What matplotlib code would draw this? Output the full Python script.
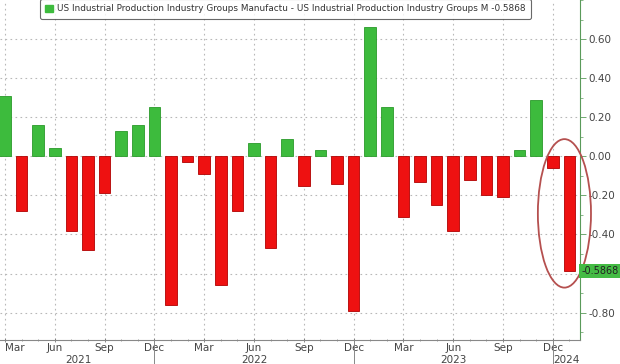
import numpy as np
import matplotlib
matplotlib.use('Agg')
import matplotlib.pyplot as plt
from matplotlib.patches import Ellipse, Patch
from matplotlib.ticker import MultipleLocator, FixedLocator

# monthly values, Mar 2021 .. Jan 2024
months = ['Mar', 'Apr', 'May', 'Jun', 'Jul', 'Aug', 'Sep', 'Oct', 'Nov', 'Dec',
          'Jan', 'Feb', 'Mar', 'Apr', 'May', 'Jun', 'Jul', 'Aug', 'Sep', 'Oct', 'Nov', 'Dec',
          'Jan', 'Feb', 'Mar', 'Apr', 'May', 'Jun', 'Jul', 'Aug', 'Sep', 'Oct', 'Nov', 'Dec',
          'Jan']
values = [0.31, -0.28, 0.16, 0.04, -0.38, -0.48, -0.19, 0.13, 0.16, 0.25,
          -0.76, -0.03, -0.09, -0.66, -0.28, 0.07, -0.47, 0.09, -0.15, 0.03, -0.14, -0.79,
          0.66, 0.25, -0.31, -0.13, -0.25, -0.38, -0.12, -0.20, -0.21, 0.03, 0.29, -0.06,
          -0.5868]
tick_months = ['Mar', 'Jun', 'Sep', 'Dec']
years = ['2021', '2022', '2023', '2024']
year_pos = [4.4, 15.0, 27.0, 33.85]
legend_text = 'US Industrial Production Industry Groups Manufactu - US Industrial Production Industry Groups M -0.5868'
last_label = '-0.5868'

green = '#3dbb3d'
red = '#ee1111'
grid_c = '#b8b8b8'
txt_c = '#444444'

x = np.arange(len(values))
vals = np.array(values)

fig = plt.figure(figsize=(6.2, 3.64), dpi=100)
ax = fig.add_axes([0.0, 0.066, 0.935, 0.934])

cols = [green if v >= 0 else red for v in vals]
edges = ['#2a9a2a' if v >= 0 else '#b00000' for v in vals]
ax.bar(x, vals, width=0.7, color=cols, edgecolor=edges, linewidth=0.6, zorder=3)

ax.set_xlim(-0.3, 34.62)
ax.set_ylim(-0.94, 0.80)

# x ticks (quarterly) + monthly minor ticks
qpos = [i for i, m in enumerate(months) if m in tick_months]
ax.xaxis.set_major_locator(FixedLocator(qpos))
ax.set_xticklabels([months[i] for i in qpos], fontsize=7.5, color=txt_c)
ax.get_xticklabels()[0].set_horizontalalignment('left')
ax.xaxis.set_minor_locator(FixedLocator(x))
ax.tick_params(axis='x', which='major', length=3, width=0.6, color='#777777', pad=1, direction='inout')
ax.tick_params(axis='x', which='minor', length=2, width=0.5, color='#777777', direction='inout')

# y axis on right
ax.yaxis.tick_right()
yt = np.round(np.arange(-0.8, 0.61, 0.2), 2) + 0.0
ax.set_yticks(yt)
# -0.60 sits behind the last-value box in the original
ax.set_yticklabels(['' if abs(t + 0.6) < 1e-6 else '%.2f' % (t + 0.0) for t in yt], fontsize=7.5, color=txt_c)
ax.yaxis.set_minor_locator(MultipleLocator(0.1))
ax.tick_params(axis='y', which='major', length=4, width=0.6, color='#5a9a5a', pad=2)
ax.tick_params(axis='y', which='minor', length=2, width=0.5, color='#5a9a5a')

ax.grid(True, which='major', linestyle=(0, (1.5, 3)), color=grid_c, linewidth=0.8, zorder=0)

for s in ['top', 'left']:
    ax.spines[s].set_visible(False)
ax.spines['right'].set_color('#5a9a5a')
ax.spines['right'].set_linewidth(0.8)
ax.spines['bottom'].set_color('#888888')
ax.spines['bottom'].set_linewidth(0.8)

# year labels and separators
for i, y in enumerate(years):
    ax.text(year_pos[i], -0.058, y, transform=ax.get_xaxis_transform(), ha='center', va='center',
            fontsize=7.5, color=txt_c, clip_on=False)
for i, m in enumerate(months):
    if m == 'Dec':
        ax.plot([i, i], [0, -0.08], transform=ax.get_xaxis_transform(), color='#888888',
                linewidth=0.7, clip_on=False)

# last value label
ax.annotate(last_label, xy=(1.0, vals[-1]), xycoords=('axes fraction', 'data'),
            xytext=(1.5, 0), textcoords='offset points', ha='left', va='center',
            fontsize=7, color='#222222', zorder=6,
            bbox=dict(boxstyle='square,pad=0.25', fc='#44bb44', ec='none'))

# red ellipse around last two bars
ell = Ellipse((33.7, -0.292), 3.2, 0.76, fill=False, edgecolor='#b5504f', linewidth=1.3,
              zorder=4, clip_on=False)
ax.add_patch(ell)

# legend
leg = ax.legend(handles=[Patch(facecolor=green, edgecolor=green)], labels=[legend_text],
                loc='upper left', bbox_to_anchor=(40 / 620 / 0.935, 1.003), fontsize=6.4,
                frameon=True, fancybox=True, handlelength=0.9, handleheight=0.9,
                handletextpad=0.4, borderpad=0.6, borderaxespad=0)
leg.get_frame().set_edgecolor('#444444')
leg.get_frame().set_linewidth(0.8)
for t in leg.get_texts():
    t.set_color('#333333')

fig.savefig('out.png', dpi=100)
